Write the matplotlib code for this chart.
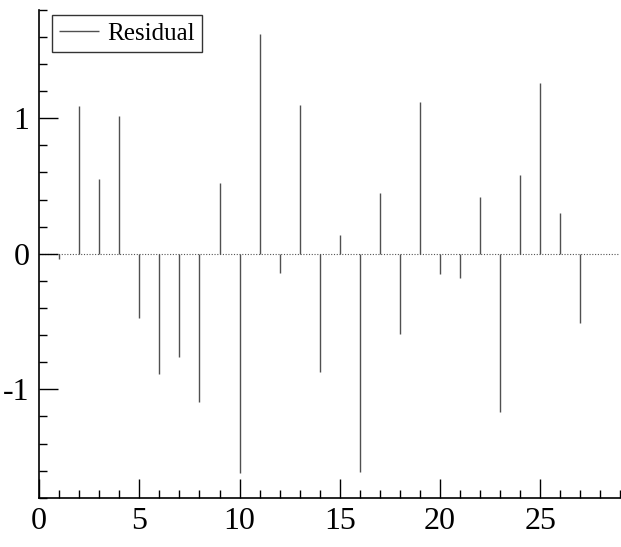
import matplotlib
matplotlib.use("Agg")
import matplotlib.pyplot as plt
from matplotlib.ticker import MultipleLocator

plt.rcParams["font.family"] = ["Liberation Serif", "DejaVu Serif"]
plt.rcParams["axes.unicode_minus"] = False

# residual at each observation
obs = list(range(1, 28))
residual = [-0.04, 1.09, 0.55, 1.02, -0.47, -0.89, -0.76, -1.09, 0.52, -1.62,
            1.62, -0.14, 1.10, -0.87, 0.14, -1.61, 0.45, -0.59, 1.12, -0.15,
            -0.18, 0.42, -1.17, 0.58, 1.26, 0.30, -0.51]
x_ticks = [0, 5, 10, 15, 20, 25]
y_ticks = [-1, 0, 1]

fig = plt.figure(figsize=(6.21, 5.47), dpi=100)
ax = fig.add_axes([0.063, 0.09, 0.936, 0.892])

ax.axhline(0, color="#555555", linewidth=0.8, linestyle=(0, (1, 1.5)), zorder=1)
ax.vlines(obs, 0, residual, colors="#505050", linewidth=1.0, label="Residual", zorder=2)

ax.set_xlim(0, 29)
ax.set_ylim(-1.8, 1.8)
ax.set_xticks(x_ticks)
ax.set_yticks(y_ticks)
ax.xaxis.set_minor_locator(MultipleLocator(1))
ax.yaxis.set_minor_locator(MultipleLocator(0.2))
ax.tick_params(which="both", direction="in", width=1.0, color="black",
               top=False, right=False)
ax.tick_params(which="major", length=14, labelsize=23, pad=7)
ax.tick_params(which="minor", length=6)

for side in ("top", "right"):
    ax.spines[side].set_visible(False)
for side in ("left", "bottom"):
    ax.spines[side].set_linewidth(1.2)

leg = ax.legend(loc="upper left", fontsize=18, frameon=True, fancybox=False,
                edgecolor="black", handlelength=1.6, handletextpad=0.3,
                borderpad=0.3, borderaxespad=0.0,
                bbox_to_anchor=(0.022, 0.99))
leg.get_frame().set_linewidth(1.0)

fig.savefig("out.png", dpi=100)
